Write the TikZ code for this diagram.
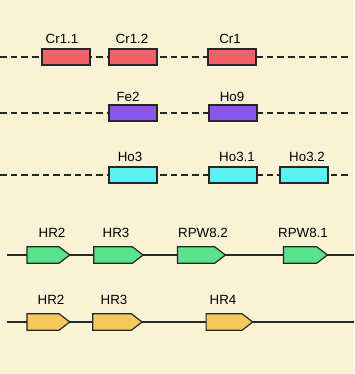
\documentclass[tikz,border=0pt]{standalone}
\usepackage{fontspec}
\setmainfont{Liberation Sans}
\usepackage{xcolor}
\usetikzlibrary{shapes.symbols}
\definecolor{bgcream}{HTML}{F9F3D6}
\definecolor{genered}{HTML}{F4606A}
\definecolor{genepurple}{HTML}{8A55F2}
\definecolor{genecyan}{HTML}{5EF0F0}
\definecolor{genegreen}{HTML}{5AE28C}
\definecolor{geneorange}{HTML}{F5C95C}
\tikzset{
  genebox/.style={draw=black!85, line width=0.9pt, rectangle, minimum width=36pt, minimum height=12pt, inner sep=0pt},
  genearrow/.style={draw=black!85, line width=0.9pt, signal, signal to=east, signal pointer angle=75, minimum height=12.5pt, inner sep=0pt},
  genelabel/.style={font=\fontsize{10}{12}\selectfont, inner sep=0pt},
  dashline/.style={dash pattern=on 5pt off 3pt, line width=0.9pt, black!85},
  solidline/.style={line width=0.9pt, black!85}
}

\begin{document}
\begin{tikzpicture}[x=0.75pt,y=-0.75pt]

\fill[bgcream] (0,0) rectangle (354,374);
\useasboundingbox (0,0) rectangle (354,374);

% backbones
\coordinate (r1l) at (0,57);   \coordinate (r1r) at (350,57);
\coordinate (r2l) at (0,113);  \coordinate (r2r) at (350,113);
\coordinate (r3l) at (0,175);  \coordinate (r3r) at (350,175);
\coordinate (r4l) at (7,255);  \coordinate (r4r) at (354,255);
\coordinate (r5l) at (7,322);  \coordinate (r5r) at (354,322);

\draw[dashline] (r1l) -- (r1r);
\draw[dashline] (r2l) -- (r2r);
\draw[dashline] (r3l) -- (r3r);
\draw[solidline] (r4l) -- (r4r);
\draw[solidline] (r5l) -- (r5r);

% row 1
\node[genebox, fill=genered] (cr11) at (66,57) {};
\node[genebox, fill=genered] (cr12) at (133,57) {};
\node[genebox, fill=genered] (cr1) at (232,57) {};
\node[genelabel] (cr11l) at (62,39) {Cr1.1};
\node[genelabel] (cr12l) at (132,39) {Cr1.2};
\node[genelabel] (cr1l) at (230,39) {Cr1};

% row 2
\node[genebox, fill=genepurple] (fe2) at (133,113) {};
\node[genebox, fill=genepurple] (ho9) at (233,113) {};
\node[genelabel] (fe2l) at (128,97) {Fe2};
\node[genelabel] (ho9l) at (232,97) {Ho9};

% row 3
\node[genebox, fill=genecyan] (ho3) at (133,175) {};
\node[genebox, fill=genecyan] (ho31) at (233,175) {};
\node[genebox, fill=genecyan] (ho32) at (304,175) {};
\node[genelabel] (ho3l) at (130,157) {Ho3};
\node[genelabel] (ho31l) at (237,157) {Ho3.1};
\node[genelabel] (ho32l) at (307,157) {Ho3.2};

% row 4
\node[genearrow, fill=genegreen, minimum width=32pt] (hr2a) at (43,255) {};
\node[genearrow, fill=genegreen, minimum width=37pt] (hr3a) at (113,255) {};
\node[genearrow, fill=genegreen, minimum width=36pt] (rpw82) at (196,255) {};
\node[genearrow, fill=genegreen, minimum width=33pt] (rpw81) at (300,255) {};
\node[genelabel] (hr2al) at (52,233) {HR2};
\node[genelabel] (hr3al) at (116,233) {HR3};
\node[genelabel] (rpw82l) at (203,233) {RPW8.2};
\node[genelabel] (rpw81l) at (303,233) {RPW8.1};

% row 5
\node[genearrow, fill=geneorange, minimum width=32pt] (hr2b) at (43,322) {};
\node[genearrow, fill=geneorange, minimum width=37pt] (hr3b) at (112,322) {};
\node[genearrow, fill=geneorange, minimum width=35pt] (hr4b) at (224,322) {};
\node[genelabel] (hr2bl) at (51,300) {HR2};
\node[genelabel] (hr3bl) at (114,300) {HR3};
\node[genelabel] (hr4bl) at (223,300) {HR4};

\end{tikzpicture}
\end{document}
